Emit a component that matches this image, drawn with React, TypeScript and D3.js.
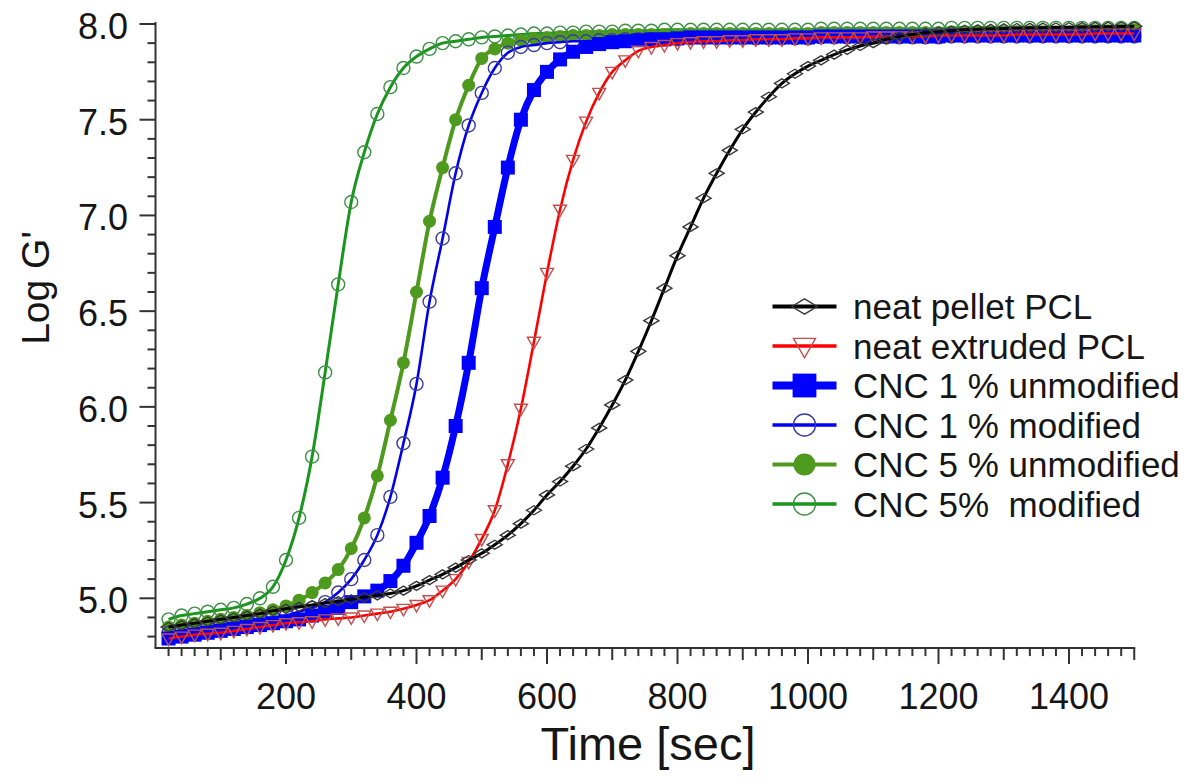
import React from 'react';
import * as d3 from 'd3';

const times = [20, 40, 60, 80, 100, 120, 140, 160, 180, 200, 220, 240, 260, 280, 300, 320, 340, 360, 380, 400,
  420, 440, 460, 480, 500, 520, 540, 560, 580, 600, 620, 640, 660, 680, 700, 720, 740, 760, 780, 800,
  820, 840, 860, 880, 900, 920, 940, 960, 980, 1000, 1020, 1040, 1060, 1080, 1100, 1120, 1140, 1160, 1180, 1200,
  1220, 1240, 1260, 1280, 1300, 1320, 1340, 1360, 1380, 1400, 1420, 1440, 1460, 1480, 1500];

const neatPellet = [4.85, 4.86, 4.87, 4.88, 4.89, 4.90, 4.91, 4.92, 4.935, 4.945, 4.955, 4.965, 4.975, 4.985, 4.995, 5.005, 5.015, 5.025, 5.04, 5.065,
  5.095, 5.125, 5.16, 5.20, 5.235, 5.28, 5.33, 5.39, 5.46, 5.54, 5.61, 5.69, 5.78, 5.89, 6.01, 6.14, 6.29, 6.45, 6.62, 6.79,
  6.94, 7.09, 7.22, 7.34, 7.45, 7.54, 7.62, 7.69, 7.74, 7.78, 7.81, 7.84, 7.865, 7.885, 7.90, 7.92, 7.935, 7.945, 7.955, 7.96,
  7.965, 7.97, 7.972, 7.975, 7.977, 7.979, 7.98, 7.981, 7.982, 7.983, 7.984, 7.985, 7.986, 7.987, 7.988];

const neatExtruded = [4.79, 4.80, 4.81, 4.815, 4.82, 4.83, 4.84, 4.85, 4.86, 4.87, 4.875, 4.88, 4.89, 4.895, 4.90, 4.91, 4.92, 4.93, 4.945, 4.965,
  4.99, 5.04, 5.10, 5.19, 5.31, 5.46, 5.70, 5.99, 6.34, 6.70, 7.03, 7.29, 7.49, 7.64, 7.75, 7.81, 7.86, 7.88, 7.89, 7.90,
  7.905, 7.91, 7.91, 7.915, 7.915, 7.92, 7.92, 7.92, 7.925, 7.925, 7.93, 7.93, 7.93, 7.93, 7.935, 7.935, 7.935, 7.935, 7.935, 7.94,
  7.94, 7.94, 7.94, 7.94, 7.94, 7.945, 7.945, 7.945, 7.945, 7.945, 7.945, 7.95, 7.95, 7.95, 7.95];

const cnc1Unmod = [4.79, 4.80, 4.81, 4.82, 4.83, 4.84, 4.85, 4.86, 4.87, 4.88, 4.89, 4.91, 4.93, 4.95, 4.98, 5.01, 5.04, 5.09, 5.17, 5.29,
  5.43, 5.63, 5.90, 6.23, 6.62, 6.94, 7.25, 7.50, 7.655, 7.75, 7.815, 7.855, 7.88, 7.895, 7.905, 7.91, 7.915, 7.92, 7.92, 7.925,
  7.93, 7.93, 7.93, 7.93, 7.93, 7.93, 7.93, 7.93, 7.93, 7.93, 7.935, 7.935, 7.935, 7.935, 7.935, 7.935, 7.935, 7.935, 7.935, 7.935,
  7.94, 7.94, 7.94, 7.94, 7.94, 7.94, 7.94, 7.94, 7.94, 7.94, 7.94, 7.94, 7.94, 7.94, 7.94];

const cnc1Mod = [4.82, 4.83, 4.84, 4.85, 4.86, 4.87, 4.88, 4.89, 4.90, 4.91, 4.93, 4.95, 4.98, 5.03, 5.10, 5.20, 5.33, 5.53, 5.81, 6.12,
  6.55, 6.88, 7.22, 7.47, 7.64, 7.77, 7.85, 7.88, 7.89, 7.90, 7.905, 7.91, 7.91, 7.915, 7.915, 7.92, 7.92, 7.92, 7.92, 7.92,
  7.925, 7.925, 7.925, 7.925, 7.925, 7.925, 7.925, 7.925, 7.925, 7.925, 7.93, 7.93, 7.93, 7.93, 7.93, 7.93, 7.93, 7.93, 7.93, 7.93,
  7.935, 7.935, 7.935, 7.935, 7.935, 7.935, 7.935, 7.935, 7.935, 7.935, 7.935, 7.935, 7.935, 7.935, 7.935];

const cnc5Unmod = [4.85, 4.86, 4.87, 4.88, 4.89, 4.90, 4.91, 4.925, 4.94, 4.96, 4.99, 5.03, 5.08, 5.15, 5.26, 5.42, 5.64, 5.93, 6.23, 6.60,
  6.97, 7.25, 7.50, 7.68, 7.82, 7.87, 7.90, 7.915, 7.925, 7.93, 7.935, 7.94, 7.94, 7.94, 7.945, 7.945, 7.945, 7.945, 7.945, 7.945,
  7.95, 7.95, 7.95, 7.95, 7.95, 7.95, 7.95, 7.95, 7.95, 7.95, 7.955, 7.955, 7.955, 7.955, 7.955, 7.955, 7.955, 7.955, 7.955, 7.955,
  7.96, 7.96, 7.96, 7.96, 7.96, 7.96, 7.96, 7.96, 7.96, 7.96, 7.965, 7.965, 7.965, 7.97, 7.97];

const cnc5Mod = [4.89, 4.91, 4.92, 4.93, 4.94, 4.95, 4.97, 5.00, 5.06, 5.20, 5.42, 5.74, 6.18, 6.64, 7.07, 7.33, 7.53, 7.67, 7.77, 7.83,
  7.87, 7.90, 7.91, 7.92, 7.93, 7.935, 7.94, 7.945, 7.95, 7.95, 7.955, 7.955, 7.96, 7.96, 7.96, 7.965, 7.965, 7.965, 7.97, 7.97,
  7.97, 7.97, 7.97, 7.97, 7.97, 7.97, 7.97, 7.97, 7.97, 7.97, 7.975, 7.975, 7.975, 7.975, 7.975, 7.975, 7.975, 7.975, 7.975, 7.975,
  7.98, 7.98, 7.98, 7.98, 7.98, 7.98, 7.98, 7.98, 7.98, 7.98, 7.98, 7.98, 7.98, 7.98, 7.98];

const seriesNames = ['neat pellet PCL', 'neat extruded PCL', 'CNC 1 % unmodified', 'CNC 1 % modified', 'CNC 5 % unmodified', 'CNC 5%  modified'];
const seriesValues = [neatPellet, neatExtruded, cnc1Unmod, cnc1Mod, cnc5Unmod, cnc5Mod];

const yTickValues = [5.0, 5.5, 6.0, 6.5, 7.0, 7.5, 8.0];
const xTickValues = [200, 400, 600, 800, 1000, 1200, 1400];

type Style = { line: string; lw: number; legendLw: number; marker: string; stroke: string; fill: string; sw: number };
const styles: Style[] = [
  { line: '#000000', lw: 3, legendLw: 4, marker: 'diamond', stroke: '#3a3a3a', fill: 'none', sw: 1.4 },
  { line: '#ff0000', lw: 2.6, legendLw: 3.5, marker: 'triangle', stroke: '#c0504d', fill: 'none', sw: 1.4 },
  { line: '#0000ff', lw: 7, legendLw: 8, marker: 'square', stroke: 'none', fill: '#0000ff', sw: 0 },
  { line: '#0000ee', lw: 2.6, legendLw: 3.5, marker: 'circle', stroke: '#3c3c9a', fill: 'none', sw: 1.4 },
  { line: '#4e9a1e', lw: 4, legendLw: 4, marker: 'circle', stroke: 'none', fill: '#4e9a1e', sw: 0 },
  { line: '#1a961e', lw: 3, legendLw: 3.5, marker: 'circle', stroke: '#3d8f45', fill: 'none', sw: 1.4 },
];
const drawOrder = [5, 4, 3, 2, 1, 0];

const FONT = '"Liberation Sans", Arial, Helvetica, sans-serif';

function markerPath(type: string, s: number): string {
  if (type === 'diamond') {
    const w = 7.5 * s, h = 4.5 * s;
    return `M${-w},0L0,${-h}L${w},0L0,${h}Z`;
  }
  if (type === 'triangle') {
    const w = 6.5 * s;
    return `M${-w},${-4.5 * s}L${w},${-4.5 * s}L0,${7 * s}Z`;
  }
  if (type === 'square') {
    const h = 7 * s;
    return `M${-h},${-h}L${h},${-h}L${h},${h}L${-h},${h}Z`;
  }
  const r = 6.5 * s;
  return `M${-r},0A${r},${r} 0 1,0 ${r},0A${r},${r} 0 1,0 ${-r},0Z`;
}

export default function App() {
  const x = d3.scaleLinear().domain([0, 1500]).range([155.5, 1134.25]);
  const y = d3.scaleLinear().domain([5, 8]).range([598.3, 24]);
  const yMin = 4.74, yMax = 8.01;
  const line = d3.line<[number, number]>().x(d => x(d[0])).y(d => y(d[1])).curve(d3.curveMonotoneX);

  const yMinor = d3.range(48, 81).map(v => v / 10).filter(v => !yTickValues.some(t => Math.abs(t - v) < 1e-6));
  const xSmall = d3.range(20, 1501, 20);

  const axisColor = '#333';
  const textColor = '#161616';
  const legendX0 = 772.5, legendX1 = 836.5, legendY0 = 306.5, legendDy = 39.5;

  return (
    <div style={{ position: 'absolute', left: 0, top: 0 }}>
      <svg width={1201} height={779} style={{ display: 'block', background: '#fff' }}>
        <rect x={0} y={0} width={1201} height={779} fill="#fff" />
        {drawOrder.map(i => {
          const st = styles[i];
          const pts: [number, number][] = times.map((t, k) => [t, seriesValues[i][k]]);
          return (
            <g key={i}>
              <path d={line(pts) || ''} fill="none" stroke={st.line} strokeWidth={st.lw} strokeLinejoin="round" />
              {pts.map((p, k) => (
                <path key={k} transform={`translate(${x(p[0])},${y(p[1])})`} d={markerPath(st.marker, 1)}
                  fill={st.fill} stroke={st.stroke} strokeWidth={st.sw} />
              ))}
            </g>
          );
        })}
        <line x1={x(0)} x2={x(0)} y1={y(yMin)} y2={y(yMax)} stroke={axisColor} strokeWidth={2} />
        <line x1={x(0) - 1} x2={x(1500) + 1} y1={y(yMin)} y2={y(yMin)} stroke={axisColor} strokeWidth={2} />
        {yTickValues.map(v => (
          <g key={'yt' + v}>
            <line x1={x(0) - 16} x2={x(0)} y1={y(v)} y2={y(v)} stroke={axisColor} strokeWidth={2} />
            <text x={128} y={y(v) + 15} textAnchor="end" fontFamily={FONT} fontSize={36} fill={textColor}>{v.toFixed(1)}</text>
          </g>
        ))}
        {yMinor.map(v => (
          <line key={'ym' + v} x1={x(0) - 8} x2={x(0)} y1={y(v)} y2={y(v)} stroke={axisColor} strokeWidth={2} />
        ))}
        {xSmall.map(t => {
          const len = t % 200 === 0 ? 16 : t % 100 === 0 ? 12 : 8;
          return <line key={'xs' + t} x1={x(t)} x2={x(t)} y1={y(yMin)} y2={y(yMin) + len} stroke={axisColor} strokeWidth={2} />;
        })}
        {xTickValues.map(t => (
          <text key={'xl' + t} x={x(t)} y={709} textAnchor="middle" fontFamily={FONT} fontSize={36} fill={textColor}>{t}</text>
        ))}
        <text x={648} y={760} textAnchor="middle" fontFamily={FONT} fontSize={47} fill={textColor}>Time [sec]</text>
        <text transform="translate(49,288) rotate(-90)" textAnchor="middle" fontFamily={FONT} fontSize={39} fill={textColor}>Log G'</text>
        {seriesNames.map((name, i) => {
          const st = styles[i];
          const ly = legendY0 + i * legendDy;
          return (
            <g key={'lg' + i}>
              <line x1={legendX0} x2={legendX1} y1={ly} y2={ly} stroke={st.line} strokeWidth={st.legendLw} />
              <path transform={`translate(${(legendX0 + legendX1) / 2},${ly})`} d={markerPath(st.marker, 1.7)}
                fill={st.fill} stroke={st.stroke} strokeWidth={st.sw} />
              <text x={853} y={ly + 12.5} fontFamily={FONT} fontSize={35} fill={textColor} style={{ whiteSpace: 'pre' }}>{name}</text>
            </g>
          );
        })}
      </svg>
    </div>
  );
}
